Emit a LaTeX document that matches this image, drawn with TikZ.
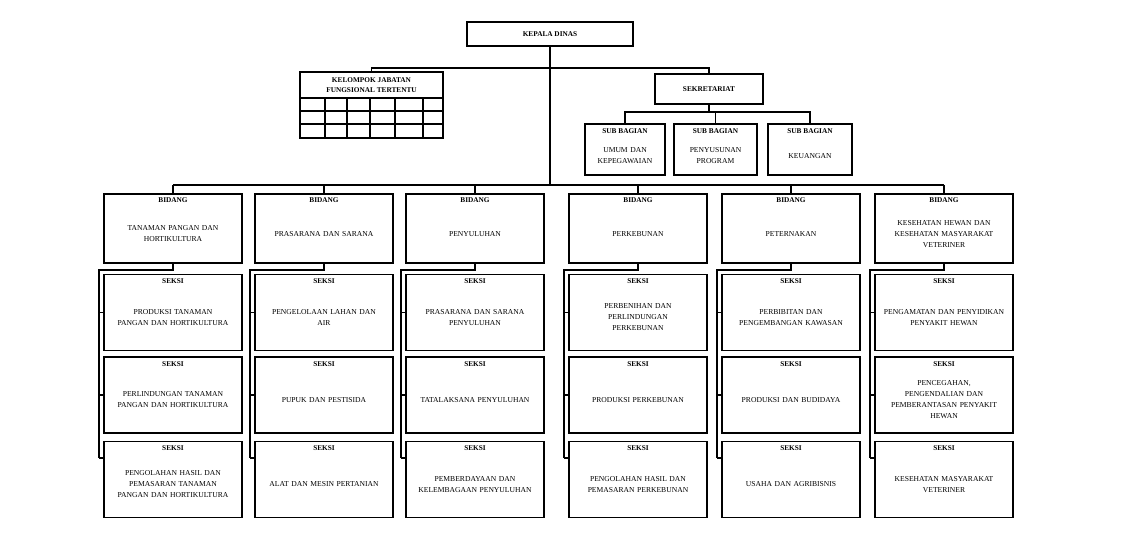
\documentclass[tikz,border=0pt]{standalone}
\usepackage{fontspec}
\setmainfont{Liberation Serif}
\begin{document}
\begin{tikzpicture}[x=1pt,y=-1pt,
 box/.style={draw,line width=1.8pt,rectangle,inner sep=0pt},
 lin/.style={line width=1.5pt},
 hd/.style={font=\fontsize{7.3}{8}\selectfont\bfseries},
 tx/.style={font=\fontsize{7.6}{11}\selectfont,align=center,text width=#1},
 tx/.default=136pt]
\useasboundingbox (0,0) rectangle (1145,548);
% top
\node[box,minimum width=166pt,minimum height=24pt] (kd) at (550,34) {};
\node[hd] at (kd) {KEPALA DINAS};
\node[box,minimum width=143pt,minimum height=66pt] (kj) at (371.5,105) {};
\node[hd,align=center,font=\fontsize{7.3}{10}\selectfont\bfseries] at (371.5,85) {KELOMPOK JABATAN\\FUNGSIONAL TERTENTU};
\foreach \y in {98,111,124} \draw[lin] (300,\y) -- (443,\y);
\foreach \x in {325,347,370,395,423} \draw[lin] (\x,98) -- (\x,138);
\node[box,minimum width=108pt,minimum height=30pt] (sk) at (709,89) {};
\node[hd] at (sk) {SEKRETARIAT};
\draw[lin] (kd.south) -- (550,185);
\draw[lin] (kj.north) -- (371.5,68) -- (709,68) -- (sk.north);
% sub bagian
\foreach \n/\x/\w/\t in {sa/625/80/{UMUM DAN\\KEPEGAWAIAN},sb/715.5/83/{PENYUSUNAN\\PROGRAM},sc/810/84/{KEUANGAN}}{
 \node[box,minimum width=\w pt,minimum height=51pt] (\n) at (\x,149.5) {};
 \node[hd] at (\x,131) {SUB BAGIAN};
 \node[tx=82pt] at (\x,156) {\t};
}
\draw[lin] (sk.south) -- (709,112);
\draw[lin] (sa.north) -- (625,112) -- (810,112) -- (sc.north);
\draw[lin] (sb.north) -- (715.5,112);
% bidang
\draw[lin] (173,185) -- (944,185);
\foreach \i/\x/\t/\sa/\sb/\sc in {
1/173/{TANAMAN PANGAN DAN\\HORTIKULTURA}/{PRODUKSI TANAMAN\\PANGAN DAN HORTIKULTURA}/{PERLINDUNGAN TANAMAN\\PANGAN DAN HORTIKULTURA}/{PENGOLAHAN HASIL DAN\\PEMASARAN TANAMAN\\PANGAN DAN HORTIKULTURA},
2/324/{PRASARANA DAN SARANA}/{PENGELOLAAN LAHAN DAN\\AIR}/{PUPUK DAN PESTISIDA}/{ALAT DAN MESIN PERTANIAN},
3/475/{PENYULUHAN}/{PRASARANA DAN SARANA\\PENYULUHAN}/{TATALAKSANA PENYULUHAN}/{PEMBERDAYAAN DAN\\KELEMBAGAAN PENYULUHAN},
4/638/{PERKEBUNAN}/{PERBENIHAN DAN\\PERLINDUNGAN\\PERKEBUNAN}/{PRODUKSI PERKEBUNAN}/{PENGOLAHAN HASIL DAN\\PEMASARAN PERKEBUNAN},
5/791/{PETERNAKAN}/{PERBIBITAN DAN\\PENGEMBANGAN KAWASAN}/{PRODUKSI DAN BUDIDAYA}/{USAHA DAN AGRIBISNIS},
6/944/{KESEHATAN HEWAN DAN\\KESEHATAN MASYARAKAT\\VETERINER}/{PENGAMATAN DAN PENYIDIKAN\\PENYAKIT HEWAN}/{PENCEGAHAN,\\PENGENDALIAN DAN\\PEMBERANTASAN PENYAKIT\\HEWAN}/{KESEHATAN MASYARAKAT\\VETERINER}}{
 \node[box,minimum width=138pt,minimum height=69pt] (b\i) at (\x,228.5) {};
 \node[hd] at (\x,200) {BIDANG};
 \node[tx] at (\x,234) {\t};
 \draw[lin] (\x,185) -- (b\i.north);
 \foreach \j/\yc/\tt in {a/312.5/\sa,b/395/\sb,c/479.5/\sc}{
  \node[box,minimum width=138pt,minimum height=76pt] (s\i\j) at (\x,\yc) {};
  \node[hd] at (\x,\yc-31) {SEKSI};
  \node[tx] at (\x,\yc+5) {\tt};
 }
 \coordinate (v\i) at (\x-74,270);
 \draw[lin] (b\i.south) -- (\x,270) -- (v\i) -- (\x-74,458);
 \draw[lin] (\x-74,312.5) -- (s\i a.west);
 \draw[lin] (\x-74,395) -- (s\i b.west);
 \draw[lin] (\x-74,458) -- (\x-69,458);
}
\end{tikzpicture}
\end{document}
